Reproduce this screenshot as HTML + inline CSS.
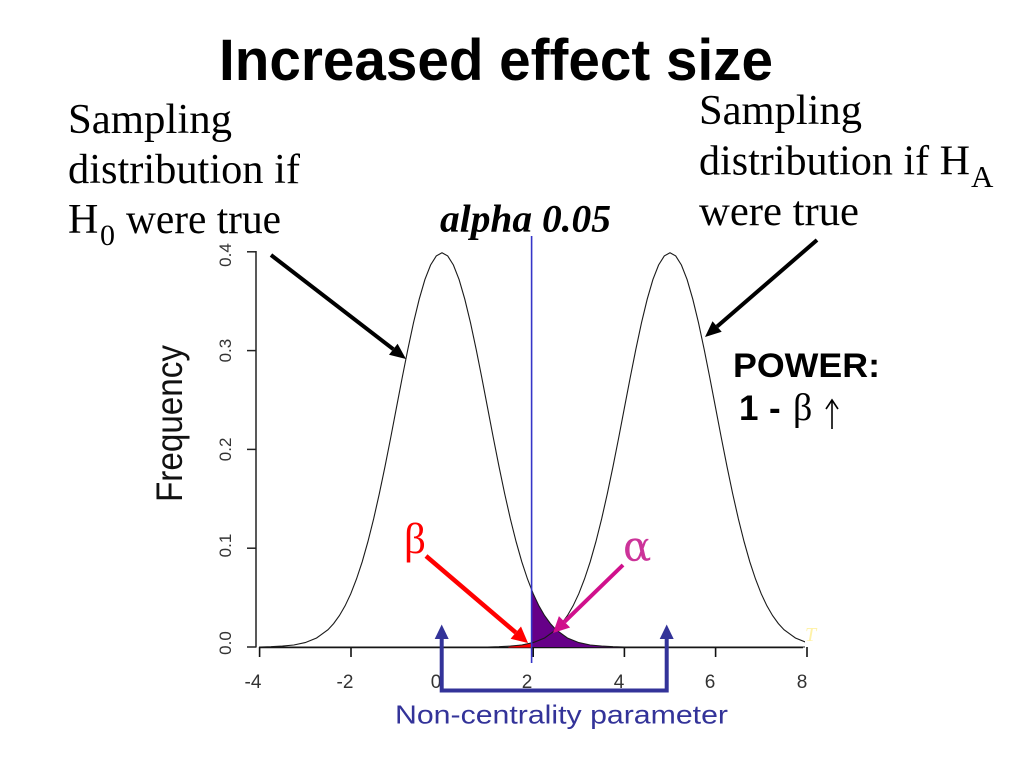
<!DOCTYPE html>
<html>
<head>
<meta charset="utf-8">
<style>
  html,body{margin:0;padding:0;background:#fff;}
  svg{display:block;}
</style>
</head>
<body>
<svg width="1024" height="768" viewBox="0 0 1024 768" xmlns="http://www.w3.org/2000/svg">
  <defs>
    <path id="bell" fill="none" stroke="#1a1a1a" stroke-width="1.1" d="M -410.4 647 L -182.4 647 L -171 646.7 L -159.6 646.1 L -148.2 645.0 L -136.8 642.6 L -125.4 638.0 L -114 629.7 L -108.3 623.5 L -102.6 615.6 L -96.9 605.8 L -91.2 593.7 L -85.5 579.0 L -79.8 561.8 L -74.1 541.7 L -68.4 519.0 L -62.7 493.8 L -57 466.5 L -51.3 437.7 L -45.6 407.9 L -39.9 378.2 L -34.2 349.5 L -28.5 322.8 L -22.8 299.2 L -17.1 279.6 L -11.4 265.0 L -5.7 255.9 L 0 252.8 L 5.7 255.9 L 11.4 265.0 L 17.1 279.6 L 22.8 299.2 L 28.5 322.8 L 34.2 349.5 L 39.9 378.2 L 45.6 407.9 L 51.3 437.7 L 57 466.5 L 62.7 493.8 L 68.4 519.0 L 74.1 541.7 L 79.8 561.8 L 85.5 579.0 L 91.2 593.7 L 96.9 605.8 L 102.6 615.6 L 108.3 623.5 L 114 629.7 L 125.4 638.0 L 136.8 642.6 L 148.2 645.0 L 159.6 646.1 L 171 646.7 L 182.4 647 L 410.4 647"/>
    <clipPath id="plotclip"><rect x="259" y="230" width="546" height="430"/></clipPath>
  </defs>

  <!-- Title -->
  <text x="219" y="80" font-family="Liberation Sans, Arial, sans-serif" font-weight="bold" font-size="58" textLength="554" lengthAdjust="spacingAndGlyphs" fill="#000">Increased effect size</text>

  <!-- Left annotation -->
  <g font-family="Liberation Serif, Times New Roman, serif" font-size="42" fill="#000">
    <text x="68" y="133" textLength="164" lengthAdjust="spacingAndGlyphs">Sampling</text>
    <text x="68" y="183" textLength="232" lengthAdjust="spacingAndGlyphs">distribution if</text>
    <text x="68" y="233">H</text>
    <text x="100" y="245" font-size="30">0</text>
    <text x="126" y="233" textLength="155" lengthAdjust="spacingAndGlyphs">were true</text>
  </g>

  <!-- Right annotation -->
  <g font-family="Liberation Serif, Times New Roman, serif" font-size="42" fill="#000">
    <text x="699" y="124" textLength="163" lengthAdjust="spacingAndGlyphs">Sampling</text>
    <text x="699" y="174.5" textLength="271" lengthAdjust="spacingAndGlyphs">distribution if H</text>
    <text x="971" y="187" font-size="31">A</text>
    <text x="699" y="225" textLength="160" lengthAdjust="spacingAndGlyphs">were true</text>
  </g>

  <!-- alpha 0.05 -->
  <text x="440" y="231.5" font-family="Liberation Serif, Times New Roman, serif" font-weight="bold" font-style="italic" font-size="39" textLength="171" lengthAdjust="spacingAndGlyphs" fill="#000">alpha 0.05</text>

  <!-- POWER -->
  <text x="733" y="377" font-family="Liberation Sans, Arial, sans-serif" font-weight="bold" font-size="34" textLength="147" lengthAdjust="spacingAndGlyphs" fill="#000">POWER:</text>
  <text x="739" y="420" font-family="Liberation Sans, Arial, sans-serif" font-weight="bold" font-size="35" fill="#000">1</text>
  <text x="769" y="420" font-family="Liberation Sans, Arial, sans-serif" font-weight="bold" font-size="35" fill="#000">-</text>
  <text x="793" y="420" font-family="Liberation Serif, Times New Roman, serif" font-size="38" fill="#000">β</text>
  <line x1="832" y1="429" x2="832" y2="401" stroke="#000" stroke-width="1.6"/>
  <polyline points="826,409 832,400 838,409" fill="none" stroke="#000" stroke-width="1.6"/>

  <!-- Y axis label -->
  <text transform="translate(182,502) rotate(-90)" font-family="Liberation Sans, Arial, sans-serif" font-size="37" textLength="157" lengthAdjust="spacingAndGlyphs" fill="#111">Frequency</text>

  <!-- Y axis -->
  <g stroke="#222" stroke-width="1.5">
    <line x1="256" y1="251" x2="256" y2="647.5"/>
    <line x1="247" y1="647" x2="256" y2="647"/>
    <line x1="247" y1="548.2" x2="256" y2="548.2"/>
    <line x1="247" y1="449.4" x2="256" y2="449.4"/>
    <line x1="247" y1="350.6" x2="256" y2="350.6"/>
    <line x1="247" y1="251.8" x2="256" y2="251.8"/>
  </g>
  <g font-family="Liberation Sans, Arial, sans-serif" font-size="17" fill="#333" text-anchor="middle">
    <text transform="translate(231,643) rotate(-90)">0.0</text>
    <text transform="translate(231,545.5) rotate(-90)">0.1</text>
    <text transform="translate(231,449.4) rotate(-90)">0.2</text>
    <text transform="translate(231,350.6) rotate(-90)">0.3</text>
    <text transform="translate(231,255) rotate(-90)">0.4</text>
  </g>

  <!-- X axis -->
  <g stroke="#111" stroke-width="1.6">
    <line x1="259" y1="647.5" x2="803" y2="647.5"/>
    <line x1="259.6" y1="647" x2="259.6" y2="657"/>
    <line x1="351" y1="647" x2="351" y2="657"/>
    <line x1="442" y1="647" x2="442" y2="657"/>
    <line x1="533.2" y1="647" x2="533.2" y2="657"/>
    <line x1="624.4" y1="647" x2="624.4" y2="657"/>
    <line x1="715.6" y1="647" x2="715.6" y2="657"/>
    <line x1="807" y1="647" x2="807" y2="657"/>
  </g>
  <g font-family="Liberation Sans, Arial, sans-serif" font-size="19" fill="#333" text-anchor="middle">
    <text x="253" y="688">-4</text>
    <text x="345" y="688">-2</text>
    <text x="436" y="688">0</text>
    <text x="527" y="688">2</text>
    <text x="619" y="688">4</text>
    <text x="710" y="688">6</text>
    <text x="802" y="688">8</text>
  </g>

  <!-- Shaded areas -->
  <path d="M 531.4 647 L 531.4 589.3 L 533.2 593.7 L 538.9 605.8 L 544.6 615.6 L 550.3 623.5 L 556 629.7 L 567.4 638.0 L 578.8 642.6 L 590.2 645.0 L 601.6 646.1 L 613 646.7 L 624 647.2 Z" fill="#660088"/>
  <path d="M 508 647.5 L 510.4 646.0 L 521.8 644.6 L 531.4 642.6 L 531.4 647.5 Z" fill="#ff0000"/>

  <!-- Curves -->
  <g clip-path="url(#plotclip)">
    <use href="#bell" transform="translate(442,0)"/>
    <use href="#bell" transform="translate(670,0)"/>
  </g>

  <!-- alpha line -->
  <line x1="531.6" y1="236" x2="531.6" y2="663" stroke="#3535c8" stroke-width="1.6"/>

  <!-- Black arrows -->
  <line x1="271" y1="255" x2="393.3" y2="349.2" stroke="#000" stroke-width="4"/>
  <polygon points="406,359 389,354.7 397.6,343.7" fill="#000"/>
  <line x1="817" y1="240" x2="717.1" y2="326.5" stroke="#000" stroke-width="4"/>
  <polygon points="705,337 712.5,321.2 721.7,331.8" fill="#000"/>

  <!-- beta / alpha labels and arrows -->
  <text x="404" y="553" font-family="Liberation Serif, Times New Roman, serif" font-size="43" fill="#ff0000">β</text>
  <line x1="426" y1="556" x2="515.8" y2="632.6" stroke="#ff0000" stroke-width="4.5"/>
  <polygon points="528,643 510.6,638.7 521,626.5" fill="#ff0000"/>

  <text x="623" y="561" font-family="DejaVu Serif, Liberation Serif, serif" font-size="42" fill="#cc3399">α</text>
  <line x1="623" y1="565" x2="564.5" y2="621.8" stroke="#d0108c" stroke-width="4"/>
  <polygon points="553,633 558.9,616.1 570.1,627.5" fill="#d0108c"/>

  <!-- Non-centrality bracket -->
  <path d="M 441.7 637 L 441.7 690.5 L 666.7 690.5 L 666.7 637" fill="none" stroke="#333399" stroke-width="4"/>
  <polygon points="441.7,624.5 434.7,639 448.7,639" fill="#333399"/>
  <polygon points="666.7,624.5 659.7,639 673.7,639" fill="#333399"/>
  <text x="395" y="723.5" font-family="Liberation Sans, Arial, sans-serif" font-size="26" textLength="333" lengthAdjust="spacingAndGlyphs" fill="#333399">Non-centrality parameter</text>

  <!-- faint yellow mark -->
  <text x="805" y="641" font-family="Liberation Serif, serif" font-style="italic" font-size="20" fill="#fff2a8">T</text>
</svg>
</body>
</html>
